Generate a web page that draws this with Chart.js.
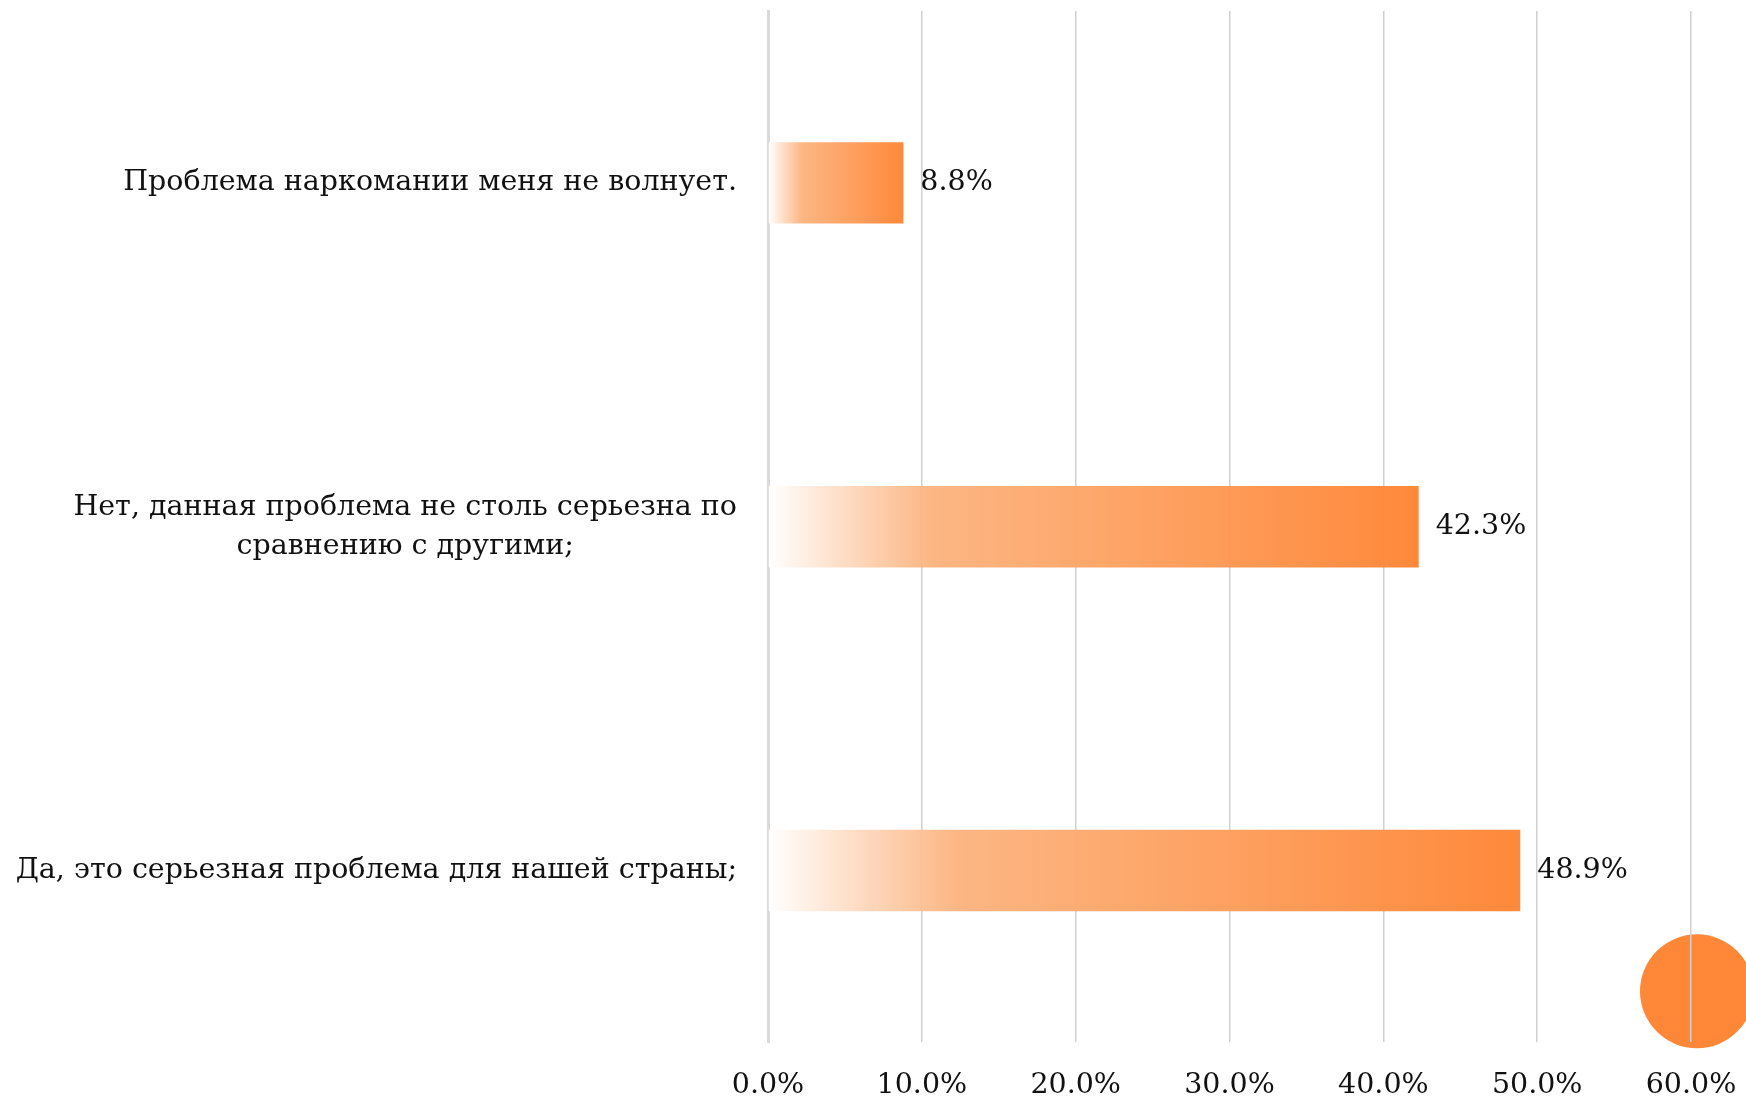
<!DOCTYPE html>
<html>
<head>
<meta charset="utf-8">
<script src="https://cdn.jsdelivr.net/npm/chart.js@4"></script>
<style>
  body { margin: 0; background: #fff; }
  #wrap { width: 1746px; height: 1096px; }
</style>
</head>
<body>
<div id="wrap"><canvas id="myChart" width="1746" height="1096"></canvas></div>
<script>
const ctx = document.getElementById('myChart');

// data
const categories = [
    ['Проблема наркомании меня не волнует.'],
    ['Нет, данная проблема не столь серьезна по', 'сравнению с другими;'],
    ['Да, это серьезная проблема для нашей страны;']
];
const values = [8.8, 42.3, 48.9];
const xTicks = [0, 10, 20, 30, 40, 50, 60];

const FONT = 'DejaVu Serif';
const FONT_SIZE = 28.5;

function barFill(c) {
    const chart = c.chart;
    if (!chart.chartArea) return '#FF8838';
    const xs = chart.scales.x;
    const x0 = xs.getPixelForValue(0);
    const x1 = xs.getPixelForValue(c.raw);
    const g = chart.ctx.createLinearGradient(x0, 0, x1, 0);
    g.addColorStop(0, 'rgba(255,255,255,1)');
    g.addColorStop(0.25, 'rgba(252,180,128,0.97)');
    g.addColorStop(1, 'rgba(255,133,52,0.97)');
    return g;
}

// round marker bottom-right, sits under the grid
const markerPlugin = {
    id: 'marker',
    beforeDraw(chart) {
        const c = chart.ctx;
        const xs = chart.scales.x;
        c.save();
        c.fillStyle = '#FF8838';
        c.beginPath();
        c.arc(xs.getPixelForValue(60) + 6, chart.chartArea.bottom - 51, 57, 0, Math.PI * 2);
        c.fill();
        c.restore();
    }
};

// category labels: block right aligned, lines centred in the block
const catLabels = {
    id: 'catLabels',
    afterDraw(chart) {
        const c = chart.ctx;
        const ys = chart.scales.y;
        const right = chart.chartArea.left - 31;
        const lh = 39;
        c.save();
        c.font = FONT_SIZE + 'px "' + FONT + '"';
        c.fillStyle = '#111';
        c.textAlign = 'center';
        c.textBaseline = 'middle';
        categories.forEach((lines, i) => {
            const w = Math.max(...lines.map(l => c.measureText(l).width));
            const cx = right - w / 2;
            const cy = ys.getPixelForTick(i);
            lines.forEach((l, j) => {
                c.fillText(l, cx, cy + (j - (lines.length - 1) / 2) * lh);
            });
        });
        c.restore();
    }
};

// value labels at bar ends
const valueLabels = {
    id: 'valueLabels',
    afterDatasetsDraw(chart) {
        const c = chart.ctx;
        const meta = chart.getDatasetMeta(0);
        c.save();
        c.font = FONT_SIZE + 'px "' + FONT + '"';
        c.fillStyle = '#111';
        c.textAlign = 'left';
        c.textBaseline = 'middle';
        meta.data.forEach((bar, i) => {
            c.fillText(values[i].toFixed(1) + '%', bar.x + 17, bar.y);
        });
        c.restore();
    }
};

new Chart(ctx, {
    type: 'bar',
    data: {
        labels: categories.map(l => l.join(' ')),
        datasets: [{
            data: values,
            backgroundColor: barFill,
            borderWidth: 0,
            categoryPercentage: 1,
            barPercentage: 0.237
        }]
    },
    options: {
        indexAxis: 'y',
        responsive: false,
        animation: false,
        layout: { padding: { top: 11, right: 55, bottom: -33.5, left: 0 } },
        plugins: {
            legend: { display: false },
            tooltip: { enabled: false }
        },
        scales: {
            x: {
                min: 0,
                max: 60,
                afterBuildTicks(s) { s.ticks = xTicks.map(v => ({ value: v })); },
                afterFit(s) { s.paddingLeft = 0; s.paddingRight = 0; },
                grid: { color: '#d0d0d0', lineWidth: 1.5, drawTicks: false },
                border: { display: false },
                ticks: {
                    padding: 26.5,
                    color: '#111',
                    font: { family: FONT, size: FONT_SIZE },
                    callback: v => v.toFixed(1) + '%'
                }
            },
            y: {
                afterFit(s) { s.width = 768; },
                grid: { display: false },
                border: { display: true, color: '#d9d9d9', width: 3 },
                ticks: { display: false }
            }
        }
    },
    plugins: [markerPlugin, catLabels, valueLabels]
});
</script>
</body>
</html>
